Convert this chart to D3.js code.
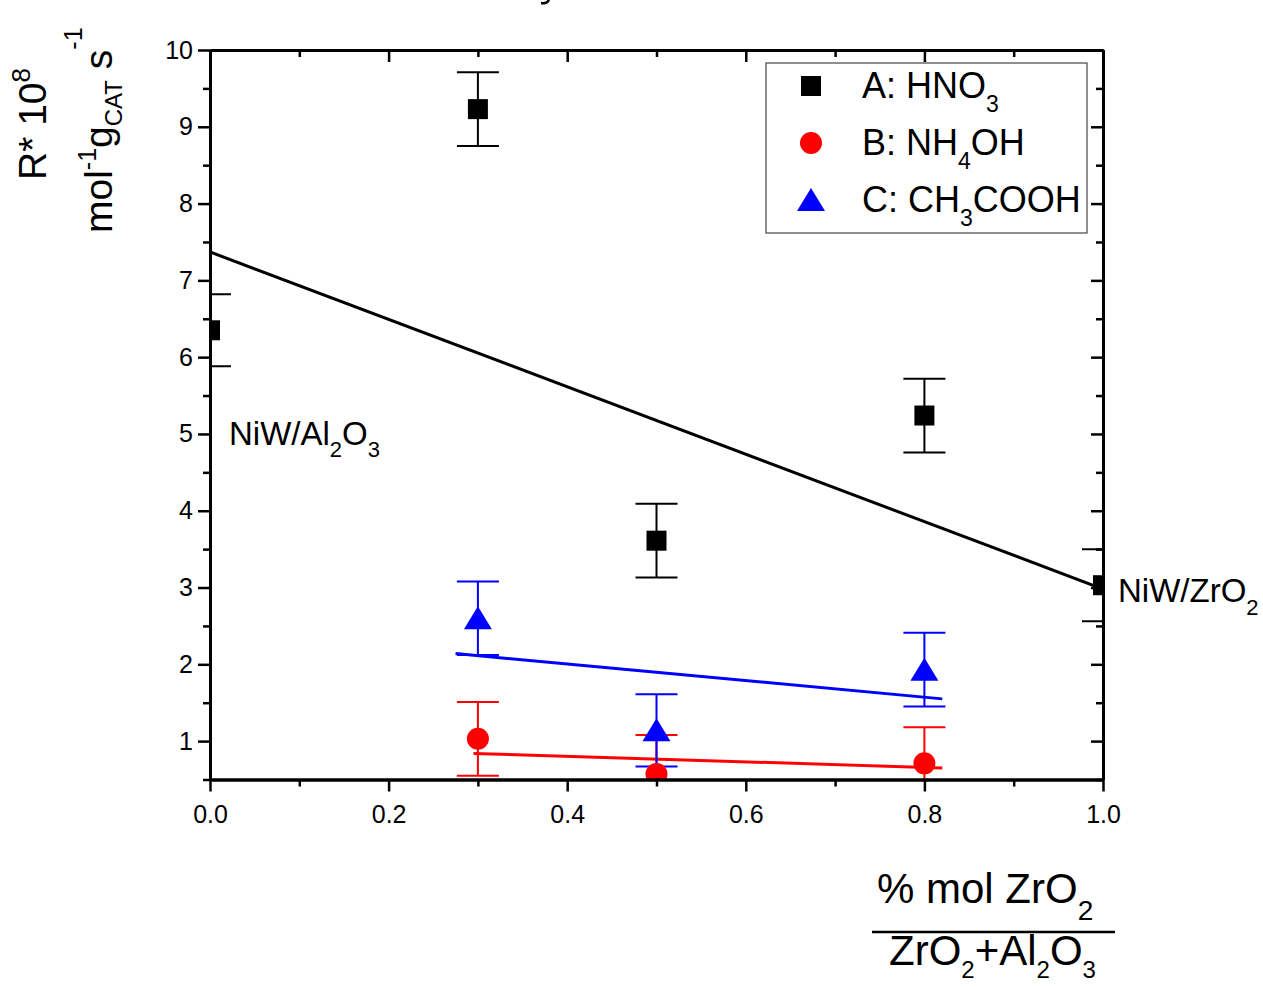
<!DOCTYPE html>
<html>
<head>
<meta charset="utf-8">
<script src="https://cdn.jsdelivr.net/npm/d3@7"></script>
<style>
  html, body { margin: 0; padding: 0; background: #fff; }
  svg { display: block; font-family: "Liberation Sans", Arial, sans-serif; }
</style>
</head>
<body>
<svg id="chart" width="1263" height="987"></svg>
<script>
// Series A: HNO3 (black squares)
const xA = [0.0, 0.3, 0.5, 0.8, 1.0];
const yA = [6.35, 9.23, 3.61, 5.24, 3.03];
const errA = [0.47, 0.48, 0.48, 0.48, 0.47];
// Series B: NH4OH (red circles)
const xB = [0.3, 0.5, 0.8];
const yB = [1.03, 0.57, 0.71];
const errB = [0.48, 0.51, 0.47];
// Series C: CH3COOH (blue triangles)
const xC = [0.3, 0.5, 0.8];
const yC = [2.60, 1.14, 1.93];
const errC = [0.48, 0.47, 0.48];
// Linear fit segments (start/end)
const fitAx = [0.0, 1.0],   fitAy = [7.37, 2.98];
const fitBx = [0.295, 0.82], fitBy = [0.84, 0.65];
const fitCx = [0.275, 0.82], fitCy = [2.14, 1.55];
// Ticks
const xMajor = [0.0, 0.2, 0.4, 0.6, 0.8, 1.0];
const xMinor = [0.1, 0.3, 0.5, 0.7, 0.9];
const yMajor = [1, 2, 3, 4, 5, 6, 7, 8, 9, 10];
const yMinor = [0.5, 1.5, 2.5, 3.5, 4.5, 5.5, 6.5, 7.5, 8.5, 9.5];

const svg = d3.select("#chart");
const L = 210, R = 1103, T = 50, B = 779.5;
const x = d3.scaleLinear().domain([0, 1]).range([L, R]);
const y = d3.scaleLinear().domain([0.5, 10]).range([B, T]);

const series = [
  { xs: xA, ys: yA, es: errA, color: "#000000", shape: "square", fx: fitAx, fy: fitAy },
  { xs: xB, ys: yB, es: errB, color: "#ff0000", shape: "circle", fx: fitBx, fy: fitBy },
  { xs: xC, ys: yC, es: errC, color: "#0000ff", shape: "triangle", fx: fitCx, fy: fitCy }
];

// rich text helper: parts = [{t, size, shift}], shift measured downward from baseline
function rich(sel, parts) {
  let prev = 0;
  parts.forEach(p => {
    const ts = sel.append("tspan").text(p.t).attr("font-size", p.size);
    const s = p.shift || 0;
    if (s !== prev) ts.attr("dy", s - prev);
    prev = s;
  });
}

function marker(g, shape, color) {
  if (shape === "square") {
    g.append("rect").attr("x", -10).attr("y", -10).attr("width", 20).attr("height", 20).attr("fill", color);
  } else if (shape === "circle") {
    g.append("circle").attr("r", 11).attr("fill", color);
  } else {
    g.append("path").attr("d", "M0,-12L14,11L-14,11Z").attr("fill", color);
  }
}

svg.append("defs").append("clipPath").attr("id", "plotclip")
  .append("rect").attr("x", L).attr("y", T).attr("width", R - L).attr("height", B - T);

const plot = svg.append("g").attr("clip-path", "url(#plotclip)");

// fit lines
series.forEach(s => {
  plot.append("line")
    .attr("x1", x(s.fx[0])).attr("y1", y(s.fy[0]))
    .attr("x2", x(s.fx[1])).attr("y2", y(s.fy[1]))
    .attr("stroke", s.color).attr("stroke-width", 3);
});

// error bars
series.forEach(s => {
  s.xs.forEach((xv, i) => {
    const g = plot.append("g").attr("stroke", s.color).attr("stroke-width", 2);
    const cx = x(xv), hi = y(s.ys[i] + s.es[i]), lo = y(s.ys[i] - s.es[i]);
    g.append("line").attr("x1", cx).attr("x2", cx).attr("y1", hi).attr("y2", lo);
    g.append("line").attr("x1", cx - 21).attr("x2", cx + 21).attr("y1", hi).attr("y2", hi);
    g.append("line").attr("x1", cx - 21).attr("x2", cx + 21).attr("y1", lo).attr("y2", lo);
  });
});

// markers
series.forEach(s => {
  s.xs.forEach((xv, i) => {
    const g = plot.append("g").attr("transform", `translate(${x(xv)},${y(s.ys[i])})`);
    marker(g, s.shape, s.color);
  });
});

// axes
function styleAxis(g) {
  g.selectAll("path.domain").attr("stroke", "#000").attr("stroke-width", 3);
  g.selectAll(".tick line").attr("stroke", "#000").attr("stroke-width", 2.5);
  g.selectAll(".tick text").attr("fill", "#000").attr("font-size", 25)
    .attr("font-family", "Liberation Sans, Arial, sans-serif");
}
const fmtX = d3.format(".1f");

svg.append("g").attr("transform", `translate(0,${B})`)
  .call(d3.axisBottom(x).tickValues(xMajor).tickFormat(fmtX).tickSize(12).tickSizeOuter(0).tickPadding(14))
  .call(styleAxis);
svg.append("g").attr("transform", `translate(0,${B})`)
  .call(d3.axisBottom(x).tickValues(xMinor).tickFormat("").tickSize(7).tickSizeOuter(0))
  .call(styleAxis);
svg.append("g").attr("transform", `translate(0,${T})`)
  .call(d3.axisTop(x).tickValues(xMajor).tickFormat("").tickSize(-12).tickSizeOuter(0))
  .call(styleAxis);
svg.append("g").attr("transform", `translate(0,${T})`)
  .call(d3.axisTop(x).tickValues(xMinor).tickFormat("").tickSize(-7).tickSizeOuter(0))
  .call(styleAxis);
svg.append("g").attr("transform", `translate(${L},0)`)
  .call(d3.axisLeft(y).tickValues(yMajor).tickFormat(d3.format("d")).tickSize(12).tickSizeOuter(0).tickPadding(5))
  .call(styleAxis);
svg.append("g").attr("transform", `translate(${L},0)`)
  .call(d3.axisLeft(y).tickValues(yMinor).tickFormat("").tickSize(7).tickSizeOuter(0))
  .call(styleAxis);
svg.append("g").attr("transform", `translate(${R},0)`)
  .call(d3.axisRight(y).tickValues(yMajor).tickFormat("").tickSize(-12).tickSizeOuter(0))
  .call(styleAxis);
svg.append("g").attr("transform", `translate(${R},0)`)
  .call(d3.axisRight(y).tickValues(yMinor).tickFormat("").tickSize(-7).tickSizeOuter(0))
  .call(styleAxis);

// legend
const lg = svg.append("g");
lg.append("rect").attr("x", 766).attr("y", 63).attr("width", 321).attr("height", 170)
  .attr("fill", "none").attr("stroke", "#444").attr("stroke-width", 1.2);
const legendLabels = [
  [{ t: "A: HNO", size: 36 }, { t: "3", size: 23, shift: 14 }],
  [{ t: "B: NH", size: 36 }, { t: "4", size: 23, shift: 14 }, { t: "OH", size: 36 }],
  [{ t: "C: CH", size: 36 }, { t: "3", size: 23, shift: 14 }, { t: "COOH", size: 36 }]
];
const legendY = [86, 143, 200];
series.forEach((s, i) => {
  const g = lg.append("g").attr("transform", `translate(811,${legendY[i]})`);
  marker(g, s.shape, s.color);
  rich(lg.append("text").attr("x", 862).attr("y", legendY[i] + 12).attr("fill", "#000"), legendLabels[i]);
});

// annotations
rich(svg.append("text").attr("x", 229).attr("y", 445).attr("fill", "#000"),
  [{ t: "NiW/Al", size: 33 }, { t: "2", size: 22, shift: 12 }, { t: "O", size: 33 }, { t: "3", size: 22, shift: 12 }]);
rich(svg.append("text").attr("x", 1118).attr("y", 602).attr("fill", "#000"),
  [{ t: "NiW/ZrO", size: 33 }, { t: "2", size: 22, shift: 13 }]);

// y axis title (two rotated lines)
rich(svg.append("text").attr("transform", "translate(46,180) rotate(-90)").attr("fill", "#000"),
  [{ t: "R* 10", size: 39 }, { t: "8", size: 26, shift: -16 }]);
rich(svg.append("text").attr("transform", "translate(112,233) rotate(-90)").attr("fill", "#000"),
  [{ t: "mol", size: 39 }, { t: "-1", size: 25, shift: -16 }, { t: "g", size: 39 },
   { t: "CAT", size: 24, shift: 10 }, { t: " s", size: 39 }, { t: "-1", size: 25, shift: -30 }]);

// x axis title as a fraction
rich(svg.append("text").attr("x", 877).attr("y", 903).attr("fill", "#000"),
  [{ t: "% mol ZrO", size: 42 }, { t: "2", size: 28, shift: 17 }]);
svg.append("line").attr("x1", 872).attr("x2", 1115).attr("y1", 932).attr("y2", 932)
  .attr("stroke", "#000").attr("stroke-width", 2.5);
rich(svg.append("text").attr("x", 889).attr("y", 965).attr("fill", "#000"),
  [{ t: "ZrO", size: 42 }, { t: "2", size: 24, shift: 13 }, { t: "+Al", size: 42 },
   { t: "2", size: 24, shift: 13 }, { t: "O", size: 42 }, { t: "3", size: 24, shift: 13 }]);

// small stroke remnant at the top edge above the frame
svg.append("path").attr("d", "M549,0 Q547,4 541,3")
  .attr("fill", "none").attr("stroke", "#000").attr("stroke-width", 2.5);
</script>
</body>
</html>
